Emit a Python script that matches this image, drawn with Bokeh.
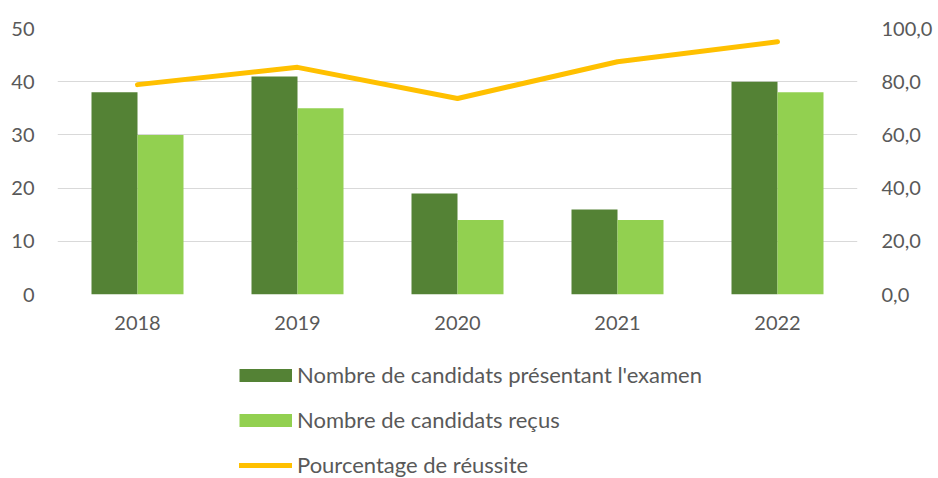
from bokeh.plotting import figure
from bokeh.layouts import column
from bokeh.models import (FactorRange, Range1d, LinearAxis, FixedTicker,
                          CustomJSTickFormatter, Legend, LegendItem, ColumnDataSource)
from bokeh.transform import dodge
from bokeh.embed import file_html
from bokeh.resources import INLINE

years = ["2018", "2019", "2020", "2021", "2022"]
presentes = [38, 41, 19, 16, 40]
recus = [30, 35, 14, 14, 38]
reussite = [78.9, 85.4, 73.7, 87.5, 95.0]
left_ticks = [0, 10, 20, 30, 40, 50]
right_ticks = [0, 20, 40, 60, 80, 100]

labels = ["Nombre de candidats présentant l'examen",
          "Nombre de candidats reçus",
          "Pourcentage de réussite"]

DARK = "#548235"
LIGHT = "#92D050"
GOLD = "#FFC000"
TXT = "#595959"
FONT = "Lato"

src = ColumnDataSource(dict(year=years, presentes=presentes, recus=recus, reussite=reussite))

p = figure(x_range=FactorRange(*years), y_range=Range1d(0, 50),
           width=938, height=344, output_backend="svg", toolbar_location=None,
           min_border_left=57, min_border_right=81, min_border_top=28,
           min_border_bottom=50)
p.outline_line_color = None
p.extra_y_ranges = {"pct": Range1d(0, 100)}

p.vbar(x=dodge("year", -0.14375, range=p.x_range), top="presentes", width=0.2875,
       source=src, fill_color=DARK, line_color=None)
p.vbar(x=dodge("year", 0.14375, range=p.x_range), top="recus", width=0.2875,
       source=src, fill_color=LIGHT, line_color=None)
p.line(x="year", y="reussite", source=src, y_range_name="pct",
       line_color=GOLD, line_width=5, line_join="round", line_cap="round")

p.xgrid.grid_line_color = None
p.ygrid.grid_line_color = "#D9D9D9"
p.ygrid.grid_line_width = 1
p.yaxis.ticker = FixedTicker(ticks=left_ticks)

right = LinearAxis(y_range_name="pct", ticker=FixedTicker(ticks=right_ticks),
                   formatter=CustomJSTickFormatter(code="return tick.toFixed(1).replace('.', ',');"))
p.add_layout(right, "right")

for ax in [p.xaxis[0], p.yaxis[0], right]:
    ax.axis_line_color = None
    ax.major_tick_line_color = None
    ax.minor_tick_line_color = None
    ax.major_tick_in = 0
    ax.major_tick_out = 0
    ax.minor_tick_out = 0
    ax.major_label_text_font = FONT
    ax.major_label_text_font_size = "20px"
    ax.major_label_text_color = TXT

p.yaxis[0].major_label_standoff = 23
right.major_label_standoff = 24
p.xaxis[0].major_label_standoff = 21

# legend panel
p2 = figure(width=938, height=134, output_backend="svg", toolbar_location=None,
            x_range=Range1d(0, 1), y_range=Range1d(0, 1), min_border=0,
            x_axis_location=None, y_axis_location=None)
p2.outline_line_color = None
p2.grid.visible = False
nan = float("nan")
proxy = ColumnDataSource(dict(x=[nan], y=[nan]))
r1 = p2.line(x="x", y="y", source=proxy, line_color=DARK, line_width=13, line_cap="butt")
r2 = p2.line(x="x", y="y", source=proxy, line_color=LIGHT, line_width=13, line_cap="butt")
r3 = p2.line(x="x", y="y", source=proxy, line_color=GOLD, line_width=5, line_cap="round")

legend = Legend(items=[LegendItem(label=labels[0], renderers=[r1]),
                       LegendItem(label=labels[1], renderers=[r2]),
                       LegendItem(label=labels[2], renderers=[r3])],
                location=(182, 0), orientation="vertical",
                glyph_width=53, glyph_height=26, label_height=26, spacing=18,
                padding=0, margin=0, border_line_color=None,
                background_fill_alpha=0, label_standoff=5,
                label_text_font=FONT, label_text_font_size="22px",
                label_text_color=TXT)
p2.add_layout(legend, "center")

layout = column(p, p2, spacing=0)
open("out.html", "w").write(file_html(layout, INLINE))
